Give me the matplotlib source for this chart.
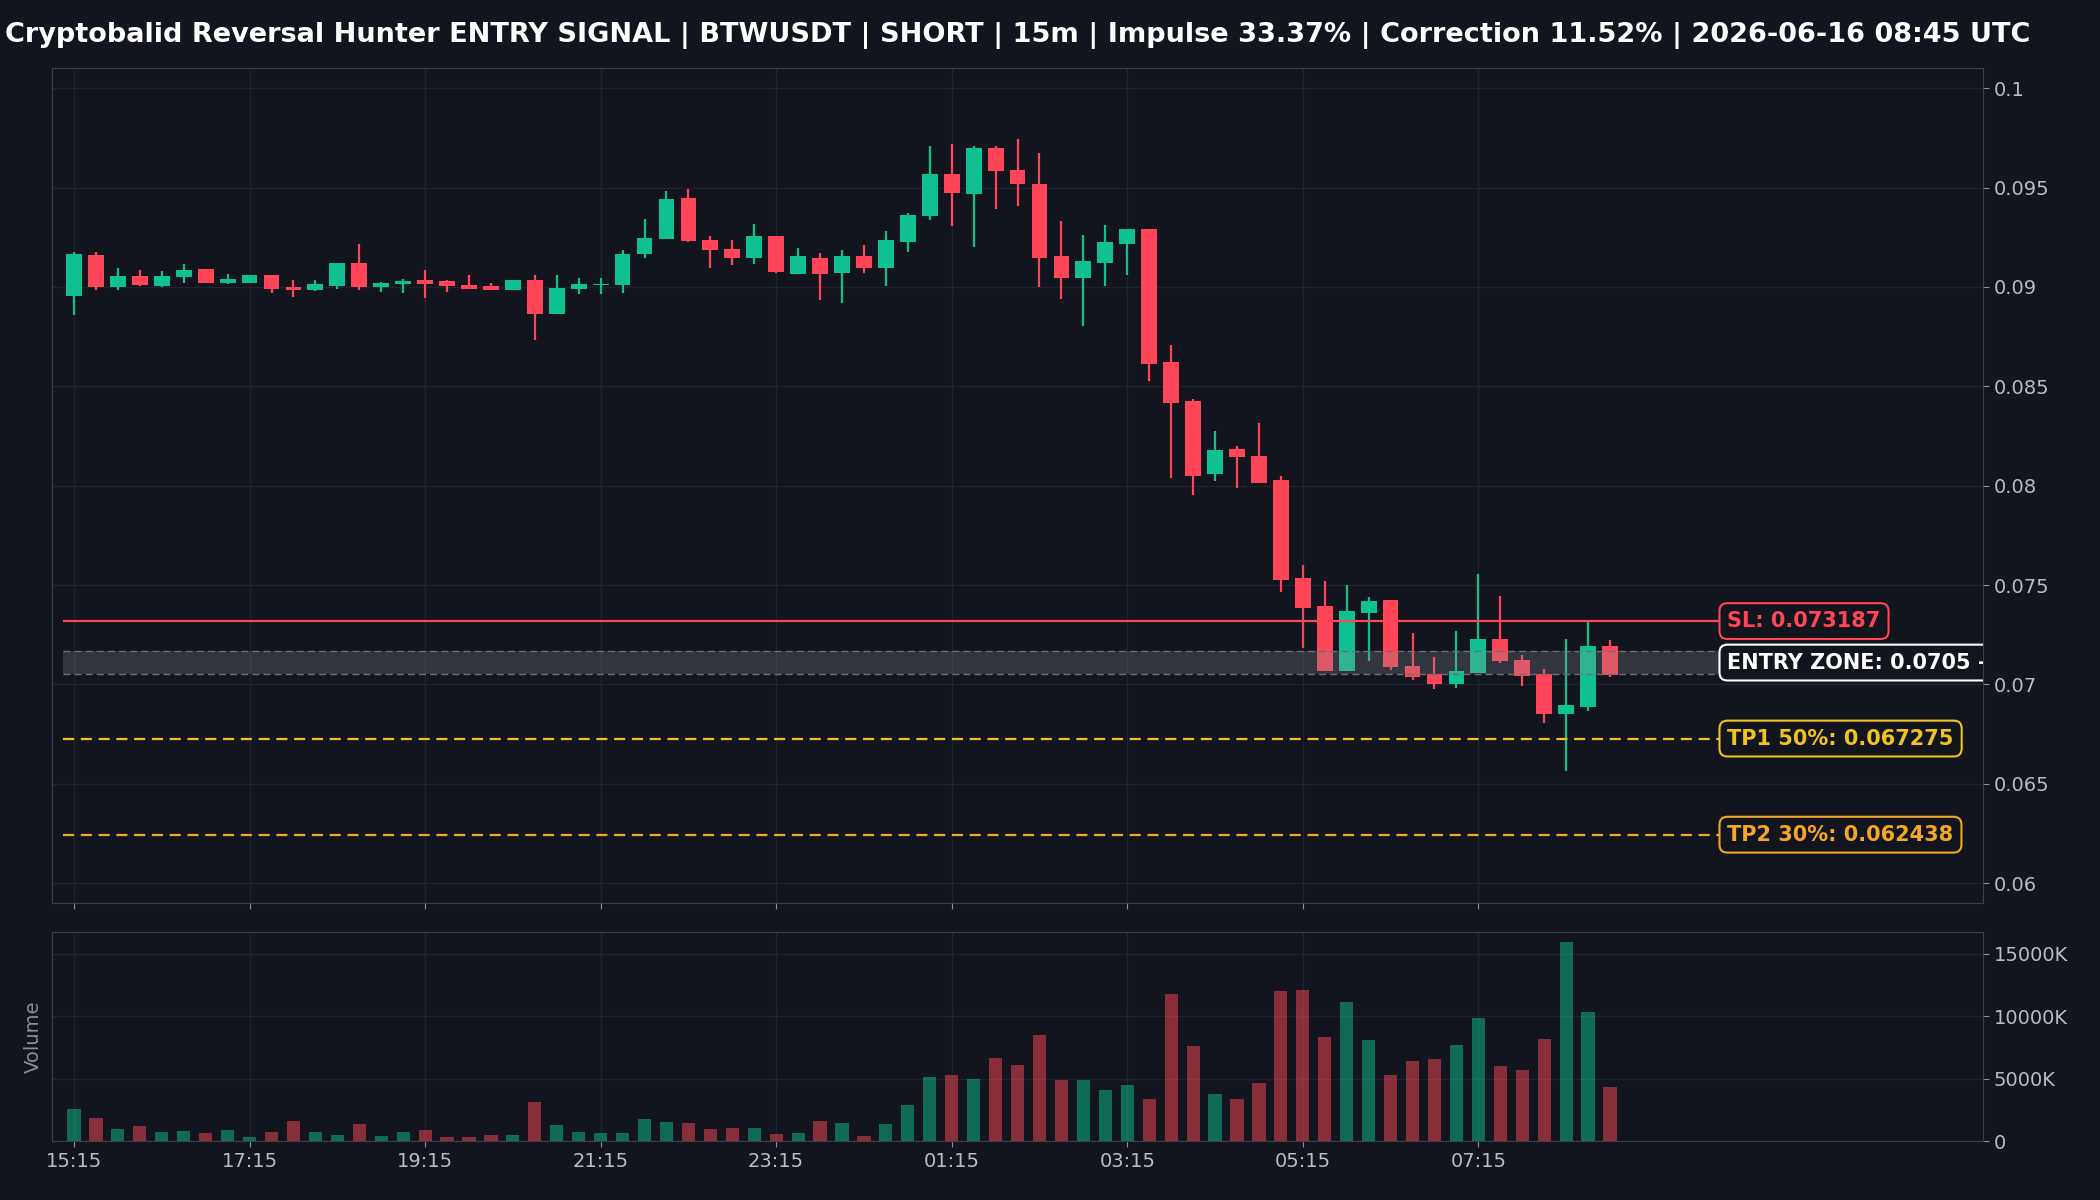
import matplotlib.pyplot as plt
import matplotlib.ticker as mticker
import numpy as np
import pandas as pd

# OHLC candles (15m)
opens = [0.08955, 0.09163, 0.09000, 0.09054, 0.09003, 0.09050, 0.09089, 0.09022, 0.09022, 0.09059,
         0.09000, 0.08983, 0.09003, 0.09122, 0.09000, 0.09017, 0.09034, 0.09028, 0.09008, 0.09003,
         0.08987, 0.09034, 0.08866, 0.08992, 0.09010, 0.09012, 0.09168, 0.09243, 0.09449, 0.09238,
         0.09193, 0.09146, 0.09258, 0.09067, 0.09148, 0.09070, 0.09158, 0.09096, 0.09226, 0.09357,
         0.09567, 0.09468, 0.09698, 0.09590, 0.09520, 0.09154, 0.09045, 0.09121, 0.09216, 0.09293,
         0.08624, 0.08425, 0.08061, 0.08183, 0.08148, 0.08027, 0.07533, 0.07394, 0.07069, 0.07357,
         0.07424, 0.07092, 0.07052, 0.07002, 0.07055, 0.07228, 0.07122, 0.07052, 0.06852, 0.06888,
         0.07193]
highs = [0.09176, 0.09176, 0.09097, 0.09084, 0.09079, 0.09114, 0.09092, 0.09067, 0.09060, 0.09060,
         0.09037, 0.09037, 0.09122, 0.09218, 0.09025, 0.09042, 0.09087, 0.09037, 0.09059, 0.09022,
         0.09034, 0.09062, 0.09059, 0.09047, 0.09047, 0.09184, 0.09344, 0.09481, 0.09495, 0.09255,
         0.09238, 0.09315, 0.09258, 0.09198, 0.09173, 0.09184, 0.09213, 0.09280, 0.09374, 0.09708,
         0.09718, 0.09711, 0.09711, 0.09746, 0.09676, 0.09330, 0.09260, 0.09310, 0.09293, 0.09293,
         0.08707, 0.08438, 0.08274, 0.08198, 0.08317, 0.08047, 0.07600, 0.07520, 0.07500, 0.07441,
         0.07424, 0.07260, 0.07139, 0.07270, 0.07555, 0.07446, 0.07148, 0.07079, 0.07231, 0.07315,
         0.07223]
lows = [0.08857, 0.08987, 0.08987, 0.09005, 0.09000, 0.09020, 0.09020, 0.09017, 0.09020, 0.08970,
        0.08950, 0.08978, 0.08988, 0.08983, 0.08975, 0.08970, 0.08945, 0.08975, 0.08992, 0.08987,
        0.08987, 0.08732, 0.08866, 0.08966, 0.08966, 0.08970, 0.09146, 0.09243, 0.09226, 0.09096,
        0.09109, 0.09117, 0.09070, 0.09067, 0.08933, 0.08920, 0.09070, 0.09005, 0.09176, 0.09339,
        0.09307, 0.09201, 0.09391, 0.09408, 0.09000, 0.08941, 0.08804, 0.09005, 0.09059, 0.08525,
        0.08041, 0.07954, 0.08024, 0.07989, 0.08014, 0.07466, 0.07181, 0.07069, 0.07069, 0.07119,
        0.07075, 0.07022, 0.06977, 0.06983, 0.07055, 0.07109, 0.06992, 0.06807, 0.06566, 0.06868,
        0.07035]
closes = [0.09168, 0.09000, 0.09054, 0.09008, 0.09054, 0.09084, 0.09020, 0.09042, 0.09059, 0.08992,
          0.08987, 0.09013, 0.09122, 0.09000, 0.09020, 0.09028, 0.09017, 0.09003, 0.08992, 0.08987,
          0.09034, 0.08866, 0.08995, 0.09017, 0.09015, 0.09168, 0.09248, 0.09444, 0.09231, 0.09188,
          0.09148, 0.09258, 0.09075, 0.09158, 0.09067, 0.09158, 0.09097, 0.09235, 0.09361, 0.09567,
          0.09473, 0.09698, 0.09584, 0.09518, 0.09148, 0.09045, 0.09129, 0.09228, 0.09293, 0.08614,
          0.08418, 0.08049, 0.08178, 0.08145, 0.08014, 0.07524, 0.07387, 0.07068, 0.07367, 0.07419,
          0.07088, 0.07039, 0.07002, 0.07067, 0.07228, 0.07119, 0.07044, 0.06849, 0.06894, 0.07193,
          0.07047]
# volume in K
volumes_k = [2540, 1818, 1016, 1177, 775, 856, 695, 936, 374, 775,
             1578, 775, 535, 1337, 455, 775, 936, 374, 374, 535,
             535, 3102, 1257, 775, 695, 695, 1738, 1497, 1417, 1016,
             1096, 1096, 615, 695, 1578, 1417, 455, 1337, 2861, 5107,
             5268, 4947, 6632, 6070, 8477, 4867, 4867, 4064, 4466, 3343,
             11766, 7594, 3744, 3343, 4626, 12006, 12087, 8316, 11124, 8075,
             5268, 6391, 6551, 7674, 9840, 5990, 5669, 8156, 15937, 10322,
             4305]

sl = 0.073187
entry_low, entry_high = 0.0705, 0.0717
tp1 = 0.067275
tp2 = 0.062438

times = pd.date_range('2026-06-15 15:15', periods=len(opens), freq='15min')
title = ('Cryptobalid Reversal Hunter ENTRY SIGNAL | BTWUSDT | SHORT | 15m | '
         'Impulse 33.37% | Correction 11.52% | 2026-06-16 08:45 UTC')

BG = '#12151d'
GREEN = '#0fc190'
RED = '#ff4557'
GRID = '#1f232d'
SPINE = '#3a3e48'
TXT = '#b8bcc4'

o = np.array(opens)
h = np.array(highs)
l = np.array(lows)
c = np.array(closes)
v = np.array(volumes_k) * 1000
x = np.arange(len(o))
up = c >= o
colors = np.where(up, GREEN, RED)

fig = plt.figure(figsize=(21, 12), dpi=100, facecolor=BG)
ax = fig.add_axes([0.0248, 0.2475, 0.9195, 0.6955], facecolor=BG)
axv = fig.add_axes([0.0248, 0.049, 0.9195, 0.1743], facecolor=BG, sharex=ax)

# candles
ax.vlines(x, l, h, colors=colors, linewidth=1.6, zorder=3)
body_bot = np.minimum(o, c)
body_h = np.maximum(np.abs(c - o), 0.00004)
ax.bar(x, body_h, bottom=body_bot, width=0.72, color=colors, zorder=4)

# levels
x0, x1 = -0.5, 75
ax.fill_between([x0, 86.5], entry_low, entry_high, color='#8a8d94', alpha=0.28, lw=0, zorder=5)
ax.hlines([entry_low, entry_high], x0, 86.5, colors='#6b6e75', linestyles=(0, (5, 3)), lw=1, zorder=5)
ax.hlines(sl, x0, x1, colors=RED, lw=1.6, zorder=5)
ax.hlines(tp1, x0, x1, colors='#f2c31c', linestyles=(0, (5, 3)), lw=1.6, zorder=5)
ax.hlines(tp2, x0, x1, colors='#f5a623', linestyles=(0, (5, 3)), lw=1.6, zorder=5)

lbl = dict(fontsize=15, fontweight='bold', ha='left', va='center', zorder=6, clip_on=True)
tx = x1 + 0.35
ax.text(tx, sl, f'SL: {sl}', color=RED,
        bbox=dict(boxstyle='round,pad=0.38', fc=BG, ec=RED, lw=1.5), **lbl)
ax.text(tx, (entry_low + entry_high) / 2, f'ENTRY ZONE: {entry_low} - {entry_high}', color='white',
        bbox=dict(boxstyle='round,pad=0.38', fc=BG, ec='white', lw=1.5), **lbl)
ax.text(tx, tp1, f'TP1 50%: {tp1}', color='#f2c31c',
        bbox=dict(boxstyle='round,pad=0.38', fc=BG, ec='#f2c31c', lw=1.5), **lbl)
ax.text(tx, tp2, f'TP2 30%: {tp2}', color='#f5a623',
        bbox=dict(boxstyle='round,pad=0.38', fc=BG, ec='#f5a623', lw=1.5), **lbl)

ax.set_xlim(-1, 87)
ax.set_ylim(0.059, 0.101)
ax.set_yticks([0.06, 0.065, 0.07, 0.075, 0.08, 0.085, 0.09, 0.095, 0.1])
ax.yaxis.set_major_formatter(mticker.FuncFormatter(lambda y, p: f'{y:g}'))
ax.yaxis.tick_right()
ax.set_title(title, color='white', fontsize=19.5, fontweight='bold', pad=19)

# volume
axv.bar(x, v, width=0.6, color=colors, alpha=0.5, zorder=3)
axv.set_ylim(0, v.max() * 1.05)
axv.set_yticks([0, 5e6, 10e6, 15e6])
axv.yaxis.set_major_formatter(mticker.FuncFormatter(lambda y, p: '0' if y == 0 else f'{y / 1000:.0f}K'))
axv.yaxis.tick_right()
axv.set_ylabel('Volume', color='#8a8e96', fontsize=14, labelpad=7)

tick_idx = x[::8]
axv.set_xticks(tick_idx)
axv.set_xticklabels([times[i].strftime('%H:%M') for i in tick_idx])
ax.tick_params(axis='x', labelbottom=False)

for a in (ax, axv):
    a.grid(True, color=GRID, lw=1, zorder=0)
    a.tick_params(colors=TXT, labelsize=14, length=4, color='#8a8e96')
    for s in a.spines.values():
        s.set_color(SPINE)

fig.savefig('out.png', facecolor=BG)
